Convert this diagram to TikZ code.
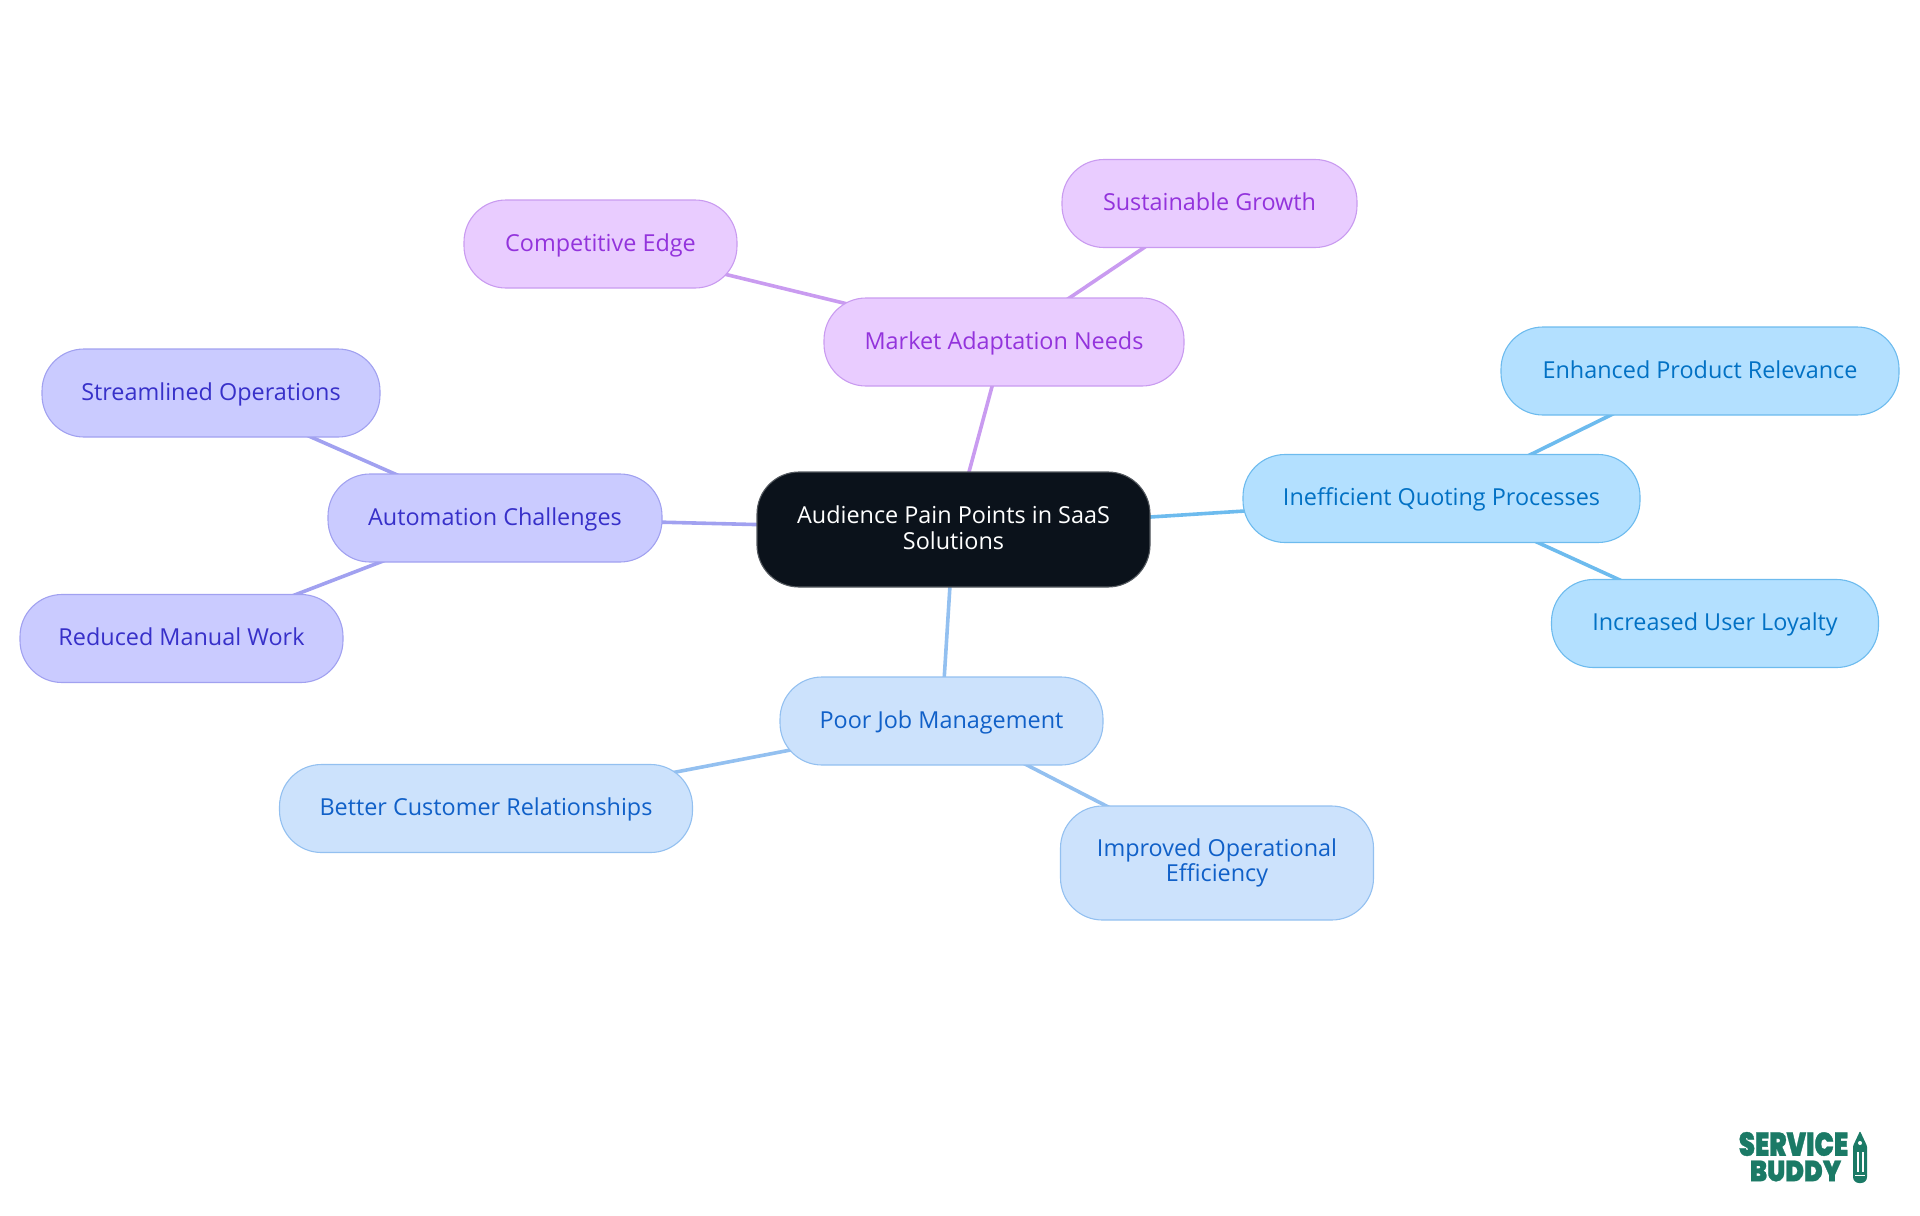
\documentclass[tikz,border=0pt]{standalone}
\usepackage{fontspec}
\usepackage{graphicx}
\setmainfont{Open Sans}
\newfontfamily\logofont[RawFeature={embolden=1}]{Poppins Black}
\usetikzlibrary{backgrounds}
\definecolor{rootfill}{HTML}{0B121B}
\definecolor{pfill}{HTML}{E9CCFF}\definecolor{pline}{HTML}{C99BF0}\definecolor{ptext}{HTML}{9333DC}
\definecolor{ifill}{HTML}{CACBFF}\definecolor{iline}{HTML}{A1A1F0}\definecolor{itext}{HTML}{3730C9}
\definecolor{bfill}{HTML}{CCE2FC}\definecolor{bline}{HTML}{93C0F0}\definecolor{btext}{HTML}{1060C8}
\definecolor{sfill}{HTML}{B3E0FF}\definecolor{sline}{HTML}{6DBBEE}\definecolor{stext}{HTML}{0271C4}
\definecolor{logogreen}{HTML}{1B7A66}
\tikzset{
  x=0.5pt,y=-0.5pt,
  box/.style={rounded corners=21pt,draw,line width=0.55pt,inner sep=0pt,align=center,font=\fontsize{11.7}{12.9}\selectfont},
  oneline/.style={text height=9.8pt,text depth=2.6pt},
  purple/.style={box,fill=pfill,draw=pline,text=ptext,minimum height=44pt},
  indigo/.style={box,fill=ifill,draw=iline,text=itext,minimum height=44pt},
  blue/.style={box,fill=bfill,draw=bline,text=btext,minimum height=44pt},
  sky/.style={box,fill=sfill,draw=sline,text=stext,minimum height=44pt},
  rootbox/.style={box,fill=rootfill,draw=rootfill!70!white,text=white,minimum width=196.5pt,minimum height=57.5pt},
  edge/.style={line width=1.8pt},
  logotext/.style={text=logogreen,inner sep=0pt},
  logotop/.style={logotext,font=\logofont\fontsize{16.5}{16.5}\selectfont},
  logobottom/.style={logotext,font=\logofont\fontsize{14.5}{14.5}\selectfont}
}
\begin{document}
\begin{tikzpicture}
\useasboundingbox (0,0) rectangle (1920,1215);
\node[rootbox] (root) at (953.5,529.5) {Audience Pain Points in SaaS\\Solutions\rule[-2pt]{0pt}{2pt}};
\node[purple,oneline,minimum width=180pt] (market) at (1004,342) {Market Adaptation Needs};
\node[purple,oneline,minimum width=147.5pt] (sust) at (1209.5,203.5) {Sustainable Growth};
\node[purple,oneline,minimum width=136.5pt] (comp) at (600.5,244) {Competitive Edge};
\node[indigo,oneline,minimum width=167pt] (auto) at (495,518) {Automation Challenges};
\node[indigo,oneline,minimum width=169pt] (stream) at (211,393) {Streamlined Operations};
\node[indigo,oneline,minimum width=161.5pt] (red) at (181.5,638.5) {Reduced Manual Work};
\node[sky,oneline,minimum width=198.5pt] (quote) at (1441.5,498.5) {Inefficient Quoting Processes};
\node[sky,oneline,minimum width=199pt] (rel) at (1700,371) {Enhanced Product Relevance};
\node[sky,oneline,minimum width=163.5pt] (loy) at (1715,623.5) {Increased User Loyalty};
\node[blue,oneline,minimum width=161.5pt] (job) at (941.5,721) {Poor Job Management};
\node[blue,oneline,minimum width=206.5pt] (cust) at (486,808.5) {Better Customer Relationships};
\node[blue,minimum width=156.5pt,minimum height=57pt] (eff) at (1217,863) {Improved Operational\\Efficiency};
\begin{scope}[on background layer]
\draw[edge,pline] (root.center) -- (market.center);
\draw[edge,pline] (market.center) -- (sust.center);
\draw[edge,pline] (market.center) -- (comp.center);
\draw[edge,iline] (root.center) -- (auto.center);
\draw[edge,iline] (auto.center) -- (stream.center);
\draw[edge,iline] (auto.center) -- (red.center);
\draw[edge,sline] (root.center) -- (quote.center);
\draw[edge,sline] (quote.center) -- (rel.center);
\draw[edge,sline] (quote.center) -- (loy.center);
\draw[edge,bline] (root.center) -- (job.center);
\draw[edge,bline] (job.center) -- (cust.center);
\draw[edge,bline] (job.center) -- (eff.center);
\end{scope}
\node[logotop,anchor=center] (logoa) at (1793.5,1144) {\scalebox{.78}[1]{SERVICE}};
\node[logobottom,anchor=center] (logob) at (1795.5,1171) {\scalebox{.87}[1]{BUDDY}};
\fill[logogreen,rounded corners=0.5pt] (1860,1131) -- (1867,1146) -- (1867,1156) -- (1853,1156) -- (1853,1146) -- cycle;
\fill[logogreen,rounded corners=3pt] (1853,1149) rectangle (1867,1183);
\fill[white] (1860,1143) circle[radius=2];
\fill[white] (1856.5,1152) rectangle (1858.5,1172);
\fill[white] (1861.5,1152) rectangle (1863.5,1172);
\fill[white] (1855,1174.5) rectangle (1865,1176);
\end{tikzpicture}
\end{document}
